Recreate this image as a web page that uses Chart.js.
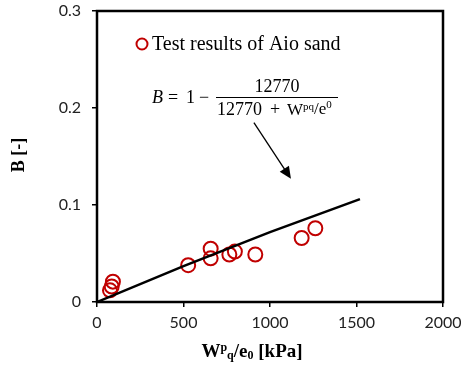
<!DOCTYPE html>
<html>
<head>
<meta charset="utf-8">
<script src="https://cdn.jsdelivr.net/npm/chart.js@4"></script>
<style>
  html, body { margin: 0; padding: 0; background: #fff; }
  #wrap { width: 461px; height: 370px; }
</style>
</head>
<body>
<div id="wrap"><canvas id="chart"></canvas></div>
<script>
// Datos
const testX = [75, 85, 92, 527, 657, 657, 765, 797, 915, 1183, 1262];
const testB = [0.012, 0.016, 0.021, 0.038, 0.055, 0.045, 0.049, 0.052, 0.049, 0.066, 0.076];
const fitX = [0, 500, 1000, 1520];
const fitB = [0, 0.037, 0.072, 0.106];
const xTicks = [0, 500, 1000, 1500, 2000];
const yTicks = [0, 0.1, 0.2, 0.3];
const arrowFrom = [907, 0.185];
const arrowTo = [1121, 0.127];

const serif = '"Liberation Serif", "Times New Roman", serif';

// Dibuja trozos de texto seguidos: [texto, fuente, desplazamiento vertical]
function drawRuns(ctx, runs, x, y) {
    runs.forEach(r => {
        ctx.font = r[1] + serif;
        ctx.fillText(r[0], x, y + r[2]);
        x += ctx.measureText(r[0]).width;
    });
    return x;
}
function runsWidth(ctx, runs) {
    let w = 0;
    runs.forEach(r => { ctx.font = r[1] + serif; w += ctx.measureText(r[0]).width; });
    return w;
}

// Plugin: marco, flecha, ecuación, leyenda y títulos de ejes
const decor = {
    id: 'decor',
    afterDraw(chart) {
        const { ctx, chartArea: a, scales: { x, y } } = chart;
        ctx.save();
        // marco
        ctx.strokeStyle = '#000';
        ctx.lineWidth = 2.5;
        ctx.strokeRect(a.left, a.top, a.right - a.left, a.bottom - a.top);

        // flecha
        const x1 = x.getPixelForValue(arrowFrom[0]), y1 = y.getPixelForValue(arrowFrom[1]);
        const x2 = x.getPixelForValue(arrowTo[0]), y2 = y.getPixelForValue(arrowTo[1]);
        const ang = Math.atan2(y2 - y1, x2 - x1);
        ctx.lineWidth = 1.3;
        ctx.beginPath();
        ctx.moveTo(x1, y1);
        ctx.lineTo(x2 - 9 * Math.cos(ang), y2 - 9 * Math.sin(ang));
        ctx.stroke();
        ctx.fillStyle = '#000';
        ctx.beginPath();
        ctx.moveTo(x2, y2);
        ctx.lineTo(x2 - 12 * Math.cos(ang) + 5.5 * Math.sin(ang), y2 - 12 * Math.sin(ang) - 5.5 * Math.cos(ang));
        ctx.lineTo(x2 - 12 * Math.cos(ang) - 5.5 * Math.sin(ang), y2 - 12 * Math.sin(ang) + 5.5 * Math.cos(ang));
        ctx.closePath();
        ctx.fill();

        // leyenda
        ctx.strokeStyle = '#c00000';
        ctx.lineWidth = 2;
        ctx.beginPath();
        ctx.arc(142, 44, 5.5, 0, Math.PI * 2);
        ctx.stroke();
        ctx.fillStyle = '#000';
        ctx.font = '20px ' + serif;
        ctx.textBaseline = 'middle';
        ctx.textAlign = 'left';
        ctx.fillText('Test results of Aio sand', 152, 45);

        // ecuación
        ctx.font = 'italic 18px ' + serif;
        ctx.fillText('B', 152, 98);
        ctx.font = '18px ' + serif;
        ctx.fillText('=', 168, 98);
        ctx.fillText('1', 186, 98);
        ctx.fillText('\u2212', 199, 98);
        ctx.lineWidth = 1;
        ctx.strokeStyle = '#000';
        ctx.beginPath();
        ctx.moveTo(216, 97.5);
        ctx.lineTo(338, 97.5);
        ctx.stroke();
        ctx.textAlign = 'center';
        ctx.fillText('12770', 277, 87);
        ctx.textAlign = 'left';
        ctx.fillText('12770', 217, 110);
        ctx.fillText('+', 270, 110);
        drawRuns(ctx, [
            ['W', '17px ', 1],
            ['pq', '11px ', -3],
            ['/e', '17px ', 0],
            ['0', '11px ', -5]
        ], 287, 110);

        // título eje X
        const xt = [
            ['W', 'bold 19px ', 0],
            ['p', 'bold 12px ', -4],
            ['q', 'bold 12px ', 4],
            ['/e', 'bold 19px ', 0],
            ['0', 'bold 12px ', 4],
            [' [kPa]', 'bold 19px ', 0]
        ];
        drawRuns(ctx, xt, 252 - runsWidth(ctx, xt) / 2, 352);

        // título eje Y
        ctx.translate(19, 155);
        ctx.rotate(-Math.PI / 2);
        ctx.textAlign = 'center';
        ctx.font = 'bold 18px ' + serif;
        ctx.fillText('B [-]', 0, 0);
        ctx.restore();
    }
};

new Chart(document.getElementById('chart'), {
    type: 'scatter',
    data: {
        datasets: [{
            label: 'Test results of Aio sand',
            data: testX.map((v, i) => ({ x: v, y: testB[i] })),
            pointStyle: 'circle',
            pointRadius: 7,
            pointHoverRadius: 7,
            pointBorderWidth: 2,
            borderColor: '#c00000',
            backgroundColor: 'rgba(0,0,0,0)',
            order: 1
        }, {
            label: 'Ajuste',
            data: fitX.map((v, i) => ({ x: v, y: fitB[i] })),
            showLine: true,
            borderColor: '#000',
            borderWidth: 2.5,
            pointRadius: 0,
            tension: 0,
            order: 0
        }]
    },
    options: {
        responsive: true,
        maintainAspectRatio: false,
        animation: false,
        layout: { padding: { left: 0, right: 18, top: 11, bottom: 0 } },
        plugins: {
            legend: { display: false },
            tooltip: { enabled: false }
        },
        scales: {
            x: {
                type: 'linear',
                min: 0,
                max: 2000,
                afterBuildTicks: s => { s.ticks = xTicks.map(v => ({ value: v })); },
                afterFit: s => { s.height = 68; s.paddingLeft = 0; s.paddingRight = 0; },
                grid: { drawOnChartArea: false, drawTicks: true, tickLength: 5, color: '#000', lineWidth: 1.5 },
                border: { display: false },
                ticks: {
                    color: '#222',
                    font: { family: 'Lato, "Open Sans", sans-serif', size: 16 },
                    padding: 6,
                    maxRotation: 0,
                    callback: v => String(v)
                }
            },
            y: {
                type: 'linear',
                min: 0,
                max: 0.3,
                afterBuildTicks: s => { s.ticks = yTicks.map(v => ({ value: v })); },
                afterFit: s => { s.width = 97; s.paddingTop = 0; s.paddingBottom = 0; },
                grid: { drawOnChartArea: false, drawTicks: true, tickLength: 5, color: '#000', lineWidth: 1.5 },
                border: { display: false },
                ticks: {
                    color: '#222',
                    font: { family: 'Lato, "Open Sans", sans-serif', size: 16 },
                    padding: 11,
                    callback: v => v === 0 ? '0' : v.toFixed(1)
                }
            }
        }
    },
    plugins: [decor]
});
</script>
</body>
</html>
